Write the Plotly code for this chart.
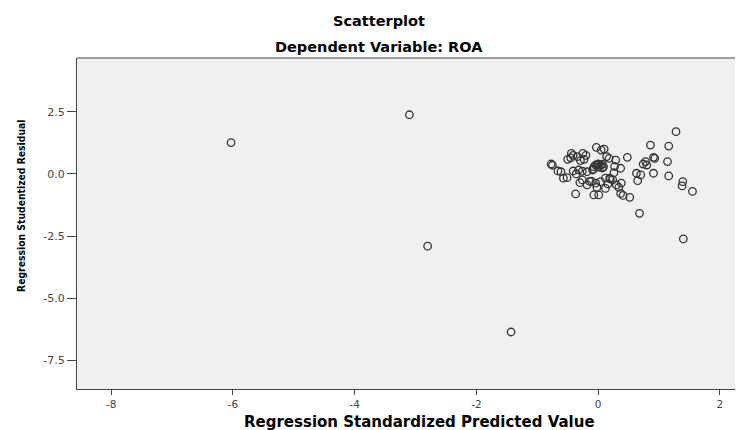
import plotly.graph_objects as go

# Regression Standardized Predicted Value
pred = [-6.03, -3.10, -2.80, -1.43,
        -0.77, -0.75, -0.66, -0.61, -0.57, -0.51, -0.50, -0.44, -0.41, -0.34,
        -0.25, -0.20, -0.29, -0.23, -0.41, -0.32, -0.26, -0.18, -0.09, -0.03,
        0.05, 0.10, 0.14, 0.18, 0.29, -0.04, 0.00, 0.04, 0.07, 0.01,
        -0.08, 0.37, 0.26, 0.19, 0.24, 0.12, 0.04, -0.04, -0.11, -0.26,
        -0.30, -0.18, -0.02, 0.12, 0.16, 0.30, 0.38, 0.34, 0.37, 0.41,
        0.52, -0.07, 0.01, -0.37, 0.48, 0.86, 1.16, 1.28, 0.91, 0.93,
        1.14, 0.78, 0.74, 0.80, 0.91, 1.16, 0.63, 0.70, 0.65, 1.39,
        1.38, 1.55, 0.68, 1.40, -0.01, 0.09, -0.07, 0.07, 0.27, -0.45,
        -0.14, 0.20, -0.36]
# Regression Studentized Residual
resid = [1.26, 2.38, -2.90, -6.35,
         0.40, 0.35, 0.12, 0.09, -0.17, -0.15, 0.59, 0.83, 0.75, 0.70,
         0.83, 0.75, 0.54, 0.59, 0.12, 0.16, 0.11, 0.09, 0.16, 1.07,
         0.96, 1.00, 0.70, 0.63, 0.56, 0.36, 0.40, 0.35, 0.39, 0.27,
         0.19, 0.23, 0.05, -0.17, -0.24, -0.17, -0.31, -0.37, -0.29, -0.24,
         -0.35, -0.44, -0.54, -0.58, -0.40, -0.44, -0.37, -0.54, -0.78, -0.86,
         -0.94, -0.84, -0.84, -0.80, 0.67, 1.16, 1.12, 1.70, 0.67, 0.63,
         0.50, 0.50, 0.40, 0.36, 0.03, -0.08, 0.03, -0.04, -0.27, -0.31,
         -0.48, -0.70, -1.58, -2.61, 0.36, 0.29, 0.29, 0.24, 0.30, 0.65,
         -0.30, -0.20, 0.00]

x_ticks = [-8, -6, -4, -2, 0, 2]
y_ticks = [2.5, 0.0, -2.5, -5.0, -7.5]

AX = "#444444"
TITLE_FONT = "DejaVu Sans, Liberation Sans, Arial, sans-serif"

fig = go.Figure()
fig.add_trace(go.Scatter(
    x=pred, y=resid, mode="markers",
    marker=dict(symbol="circle-open", size=7.5, color="#333333",
                line=dict(width=1.3, color="#333333")),
    hoverinfo="skip", showlegend=False))

fig.update_layout(
    width=735, height=422,
    margin=dict(l=69, r=0, t=50, b=41),
    paper_bgcolor="white", plot_bgcolor="#f0f0f0",
    font=dict(family="DejaVu Sans, Liberation Sans, Arial, sans-serif", size=11, color="#444444"),
    xaxis=dict(range=[-8.56, 2.38], tickvals=x_ticks, ticktext=[str(v) for v in x_ticks],
               showgrid=False, zeroline=False, showline=True, linecolor=AX,
               linewidth=1, ticks="outside", ticklen=5, tickcolor=AX,
               tickfont=dict(size=10.5, color="#444444")),
    yaxis=dict(range=[-8.64, 4.66], tickvals=y_ticks, ticktext=["%.1f" % v for v in y_ticks],
               showgrid=False, zeroline=False, showline=True, linecolor=AX,
               linewidth=1, ticks="outside", ticklen=9, tickcolor=AX,
               tickfont=dict(size=11, color="#444444")),
    shapes=[dict(type="line", xref="paper", yref="paper", x0=0, x1=1, y0=1, y1=1,
                 line=dict(color=AX, width=1))],
    annotations=[
        dict(text="<b>Scatterplot</b>", xref="paper", yref="paper", x=0.453, y=1,
             yanchor="middle", yshift=37, showarrow=False,
             font=dict(family=TITLE_FONT, size=14.5, color="#000000")),
        dict(text="<b>Dependent Variable: ROA</b>", xref="paper", yref="paper", x=0.453, y=1,
             yanchor="middle", yshift=11, showarrow=False,
             font=dict(family=TITLE_FONT, size=14.5, color="#000000")),
        dict(text="<b>Regression Standardized Predicted Value</b>", xref="paper", yref="paper",
             x=0.515, y=0, yanchor="middle", yshift=-33, showarrow=False,
             font=dict(family=TITLE_FONT, size=15, color="#000000")),
        dict(text="<b>Regression Studentized Residual</b>", xref="paper", yref="paper",
             x=0, xanchor="center", xshift=-56, y=0.553, yanchor="middle", textangle=-90,
             showarrow=False,
             font=dict(family="DejaVu Sans Condensed, Liberation Sans, Arial, sans-serif",
                       size=10.3, color="#000000")),
    ],
)

fig.write_html("out.html")
